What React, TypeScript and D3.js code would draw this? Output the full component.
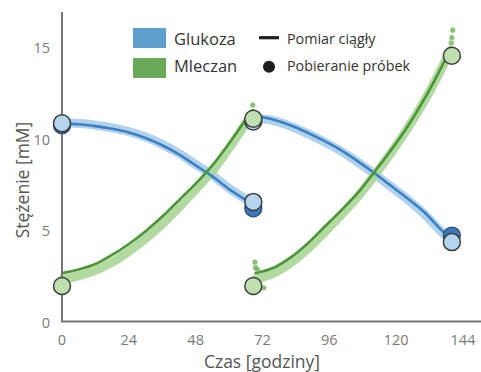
import React from "react";
import * as d3 from "d3";

const W = 481;
const H = 372;

// czas [h] i stężenia [mM]
const glcT1 = [0, 6, 12, 18, 24, 30, 36, 42, 48, 54, 60, 66, 68.5];
const glcLine1 = [10.9, 10.85, 10.75, 10.6, 10.4, 10.1, 9.7, 9.2, 8.6, 8.0, 7.3, 6.7, 6.4];
const glcBand1 = [10.95, 10.9, 10.8, 10.65, 10.45, 10.15, 9.75, 9.25, 8.65, 8.05, 7.35, 6.75, 6.5];

const glcT2 = [69.8, 76, 82, 88, 94, 100, 106, 112, 118, 124, 130, 136, 139.5];
const glcLine2 = [11.3, 11.1, 10.8, 10.4, 9.95, 9.45, 8.85, 8.2, 7.5, 6.8, 6.05, 5.1, 4.6];
const glcBand2 = [11.2, 11.05, 10.75, 10.35, 9.9, 9.4, 8.8, 8.15, 7.45, 6.75, 5.95, 5.0, 4.5];

const lacT1 = [0, 6, 12, 18, 24, 30, 36, 42, 48, 54, 60, 66, 68.5];
const lacLine1 = [2.7, 2.9, 3.2, 3.7, 4.3, 5.0, 5.8, 6.7, 7.6, 8.6, 9.8, 11.1, 11.6];
const lacBand1 = [2.35, 2.55, 2.85, 3.3, 3.9, 4.6, 5.4, 6.3, 7.3, 8.3, 9.55, 10.9, 11.45];

const lacT2 = [69.5, 76, 82, 88, 94, 100, 106, 112, 118, 124, 130, 136, 139.5];
const lacLine2 = [2.7, 3.0, 3.55, 4.3, 5.2, 6.1, 7.05, 8.2, 9.4, 10.7, 12.2, 13.9, 15.0];
const lacBand2 = [2.35, 2.7, 3.25, 4.0, 4.9, 5.85, 6.85, 8.0, 9.25, 10.6, 12.1, 13.8, 14.9];

// pojedyncze rozrzucone punkty pomiaru ciągłego
const lacScatterT = [69.3, 69.5, 70.2, 72.5, 140, 140.3, 139.8, 68.5];
const lacScatterV = [3.3, 3.0, 2.9, 1.9, 15.6, 16.0, 15.3, 11.9];

// pobieranie próbek
const glcSampleT = [0, 68.7, 68.7, 140];
const glcSampleV = [10.9, 6.6, 11.0, 4.4];
const glcSampleDarkT = [0, 68.7, 140];
const glcSampleDarkV = [10.8, 6.25, 4.76];
const lacSampleT = [0, 68.7, 68.7, 140];
const lacSampleV = [2.0, 11.15, 2.0, 14.6];

const xTicks = [0, 24, 48, 72, 96, 120, 144];
const yTicks = [0, 5, 10, 15];

const FONT = "'Open Sans', 'Noto Sans', sans-serif";

export default function App() {
  const x = d3.scaleLinear().domain([0, 150]).range([62, 62 + (150 * 401) / 144]);
  const y = d3.scaleLinear().domain([0, 17]).range([322.5, 11.9]);

  const line = d3
    .line<[number, number]>()
    .x((d) => x(d[0]))
    .y((d) => y(d[1]))
    .curve(d3.curveCatmullRom);

  const zip = (t: number[], v: number[]) => t.map((d, i) => [d, v[i]] as [number, number]);

  const series = [
    { t: glcT1, line: glcLine1, band: glcBand1, dark: "#3b80c3", light: "#a9cdea" },
    { t: glcT2, line: glcLine2, band: glcBand2, dark: "#3b80c3", light: "#a9cdea" },
    { t: lacT1, line: lacLine1, band: lacBand1, dark: "#4b9538", light: "#a9d596" },
    { t: lacT2, line: lacLine2, band: lacBand2, dark: "#4b9538", light: "#a9d596" },
  ];

  return (
    <svg
      width={W}
      height={H}
      style={{ position: "absolute", left: 0, top: 0, background: "#fff" }}
      fontFamily={FONT}
    >
      {/* pasma pomiaru ciągłego */}
      {series.map((s, i) => (
        <path
          key={"b" + i}
          d={line(zip(s.t, s.band)) || ""}
          fill="none"
          stroke={s.light}
          strokeWidth={9}
          strokeLinecap="round"
          opacity={0.9}
        />
      ))}
      {series.map((s, i) => (
        <path
          key={"l" + i}
          d={line(zip(s.t, s.line)) || ""}
          fill="none"
          stroke={s.dark}
          strokeWidth={2.6}
          strokeLinecap="round"
        />
      ))}
      {lacScatterT.map((t, i) => (
        <circle key={"s" + i} cx={x(t)} cy={y(lacScatterV[i])} r={2.6} fill="#6fb35a" opacity={0.8} />
      ))}

      {/* osie */}
      <line x1={62} x2={62} y1={12} y2={322} stroke="#7d7575" strokeWidth={2} />
      <line x1={61} x2={W} y1={321.5} y2={321.5} stroke="#7d7575" strokeWidth={2} />

      {/* próbki */}
      {glcSampleDarkT.map((t, i) => (
        <circle key={"gd" + i} cx={x(t)} cy={y(glcSampleDarkV[i])} r={8.5} fill="#3a78bb" stroke="#2f4f6a" strokeWidth={1.3} />
      ))}
      {glcSampleT.map((t, i) => (
        <circle key={"g" + i} cx={x(t)} cy={y(glcSampleV[i])} r={8.5} fill="#b3d5ef" stroke="#3d3d3d" strokeWidth={1.5} />
      ))}
      {lacSampleT.map((t, i) => (
        <circle key={"m" + i} cx={x(t)} cy={y(lacSampleV[i])} r={8.5} fill="#bde0ae" stroke="#3d3d3d" strokeWidth={1.5} />
      ))}

      {/* podpisy osi */}
      {yTicks.map((v) => (
        <text key={"yt" + v} x={50} y={y(v) + 5} textAnchor="end" fontSize={14.5} fill="#7a7a7a">
          {v}
        </text>
      ))}
      {xTicks.map((v) => (
        <text key={"xt" + v} x={x(v)} y={345} textAnchor="middle" fontSize={14.5} fill="#7a7a7a">
          {v}
        </text>
      ))}
      <text x={262} y={368} textAnchor="middle" fontSize={17.5} fill="#555">
        Czas [godziny]
      </text>
      <text
        transform={`translate(29,${180}) rotate(-90)`}
        textAnchor="middle"
        fontSize={17.5}
        fill="#555"
      >
        Stężenie [mM]
      </text>

      {/* legenda */}
      <rect x={133} y={28} width={33} height={20} fill="#5e9fcf" />
      <rect x={133} y={58} width={33} height={20} fill="#6ba95a" />
      <text x={174} y={45} fontSize={16.5} fill="#333">Glukoza</text>
      <text x={174} y={72} fontSize={16.5} fill="#333">Mleczan</text>
      <line x1={259} x2={279} y1={37.7} y2={37.7} stroke="#1e1e1e" strokeWidth={3.2} />
      <circle cx={269} cy={66.7} r={6} fill="#1e1e1e" />
      <text x={287} y={44} fontSize={14.3} fill="#333">Pomiar ciągły</text>
      <text x={287} y={71} fontSize={14.3} fill="#333">Pobieranie próbek</text>
    </svg>
  );
}
